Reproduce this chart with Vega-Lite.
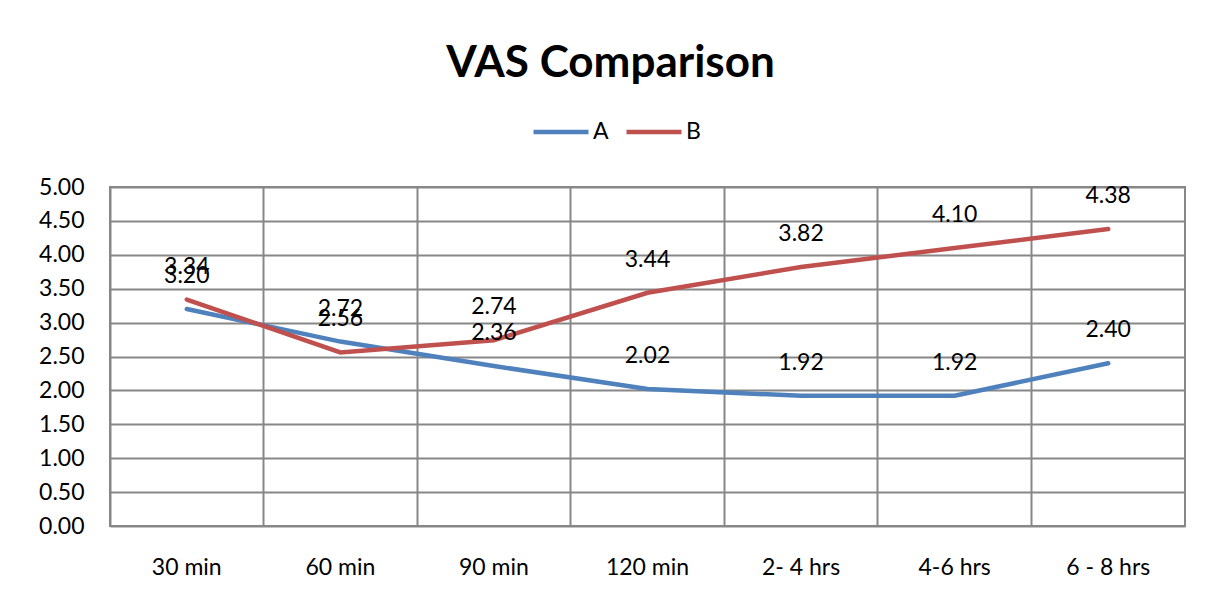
{
  "$schema": "https://vega.github.io/schema/vega-lite/v6.json",
  "width": 1075,
  "height": 339,
  "autosize": {"type": "none"},
  "padding": {"left": 110, "top": 187, "right": 21, "bottom": 79},
  "background": "white",
  "config": {
    "font": "Lato",
    "view": {"stroke": "#878787", "strokeWidth": 2},
    "axis": {"labelFont": "Lato", "labelFontSize": 23, "labelColor": "#000", "gridColor": "#878787", "gridWidth": 2, "gridOpacity": 1, "domain": false, "ticks": false, "title": null}
  },
  "title": {"text": "VAS Comparison", "fontSize": 44, "fontWeight": "bold", "font": "Lato", "color": "#000", "anchor": "middle", "dx": -37, "offset": 16},
  "data": {"values": [
    {"time": "30 min", "series": "A", "value": 3.20},
    {"time": "60 min", "series": "A", "value": 2.72},
    {"time": "90 min", "series": "A", "value": 2.36},
    {"time": "120 min", "series": "A", "value": 2.02},
    {"time": "2- 4 hrs", "series": "A", "value": 1.92},
    {"time": "4-6 hrs", "series": "A", "value": 1.92},
    {"time": "6 - 8 hrs", "series": "A", "value": 2.40},
    {"time": "30 min", "series": "B", "value": 3.34},
    {"time": "60 min", "series": "B", "value": 2.56},
    {"time": "90 min", "series": "B", "value": 2.74},
    {"time": "120 min", "series": "B", "value": 3.44},
    {"time": "2- 4 hrs", "series": "B", "value": 3.82},
    {"time": "4-6 hrs", "series": "B", "value": 4.10},
    {"time": "6 - 8 hrs", "series": "B", "value": 4.38}
  ]},
  "encoding": {
    "x": {"field": "time", "type": "nominal", "sort": null,
      "scale": {"type": "band", "paddingInner": 0, "paddingOuter": 0},
      "axis": {"labelAngle": 0, "labelPadding": 30, "grid": true, "bandPosition": 0}},
    "y": {"field": "value", "type": "quantitative",
      "scale": {"domain": [0, 5], "nice": false},
      "axis": {"values": [0, 0.5, 1, 1.5, 2, 2.5, 3, 3.5, 4, 4.5, 5], "format": ".2f", "labelPadding": 26, "grid": true}}
  },
  "layer": [
    {
      "mark": {"type": "line", "strokeWidth": 4.5, "strokeCap": "round"},
      "encoding": {
        "color": {"field": "series", "type": "nominal",
          "scale": {"domain": ["A", "B"], "range": ["#4F81BD", "#C0504D"]},
          "legend": {"title": null, "orient": "none", "legendX": 421, "legendY": -85, "direction": "horizontal",
            "symbolType": "stroke", "symbolSize": 3025, "symbolStrokeWidth": 4.5, "labelFontSize": 23, "labelFont": "Lato", "labelColor": "#000", "labelOffset": 2, "columnPadding": 8}}
      }
    },
    {
      "mark": {"type": "text", "dy": -33, "fontSize": 23, "font": "Lato", "color": "#000", "baseline": "middle"},
      "encoding": {"text": {"field": "value", "type": "quantitative", "format": ".2f"}, "detail": {"field": "series"}}
    }
  ]
}
